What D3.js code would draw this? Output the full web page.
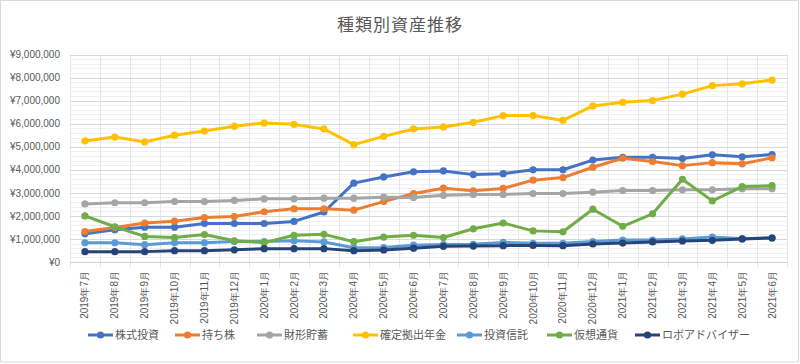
<!DOCTYPE html>
<html><head><meta charset="utf-8">
<script src="https://cdn.jsdelivr.net/npm/d3@7"></script>
<style>
html,body{margin:0;padding:0;background:#fff;}
svg{display:block;font-family:"Noto Sans CJK JP","Noto Sans",sans-serif;}
</style></head>
<body>
<svg id="chart" width="800" height="364"></svg>
<script>
const title = "種類別資産推移";
const months = ["2019年7月","2019年8月","2019年9月","2019年10月","2019年11月","2019年12月",
  "2020年1月","2020年2月","2020年3月","2020年4月","2020年5月","2020年6月","2020年7月","2020年8月",
  "2020年9月","2020年10月","2020年11月","2020年12月","2021年1月","2021年2月","2021年3月",
  "2021年4月","2021年5月","2021年6月"];
const seriesNames = ["株式投資","持ち株","財形貯蓄","確定拠出年金","投資信託","仮想通貨","ロボアドバイザー"];
const seriesColors = ["#4472C4","#ED7D31","#A5A5A5","#FFC000","#5B9BD5","#70AD47","#264478"];
const kabu    = [1220000,1400000,1510000,1510000,1670000,1670000,1670000,1760000,2170000,3420000,3690000,3910000,3950000,3790000,3830000,4000000,4000000,4420000,4540000,4540000,4490000,4650000,4560000,4660000];
const mochi   = [1320000,1500000,1690000,1770000,1930000,1970000,2180000,2310000,2310000,2250000,2620000,2970000,3200000,3090000,3190000,3550000,3660000,4110000,4500000,4360000,4180000,4310000,4260000,4520000];
const zaikei  = [2520000,2570000,2570000,2620000,2620000,2670000,2740000,2740000,2770000,2770000,2810000,2800000,2890000,2930000,2930000,2970000,2970000,3030000,3100000,3100000,3130000,3130000,3180000,3180000];
const kakutei = [5250000,5420000,5210000,5500000,5680000,5890000,6030000,5970000,5770000,5090000,5450000,5770000,5860000,6060000,6350000,6350000,6140000,6770000,6930000,7000000,7280000,7650000,7730000,7890000];
const toushin = [830000,830000,750000,830000,830000,890000,890000,920000,870000,620000,630000,730000,760000,770000,850000,810000,810000,890000,950000,950000,1000000,1080000,1010000,1050000];
const kasou   = [2000000,1530000,1110000,1060000,1190000,920000,840000,1160000,1200000,880000,1080000,1160000,1060000,1440000,1690000,1350000,1310000,2290000,1550000,2090000,3590000,2650000,3270000,3310000];
const robo    = [450000,450000,450000,490000,490000,530000,580000,580000,580000,490000,520000,600000,680000,690000,710000,720000,710000,780000,820000,870000,910000,940000,1000000,1040000];
const yTicks = [0,1000000,2000000,3000000,4000000,5000000,6000000,7000000,8000000,9000000];
const seriesValues = [kabu,mochi,zaikei,kakutei,toushin,kasou,robo];

const svg = d3.select("#chart");
const pLeft = 70, pRight = 787, pTop = 54.5, pBottom = 262;

// border
svg.append("rect").attr("x",0.5).attr("y",0.5).attr("width",798).attr("height",361.5)
  .attr("fill","#fff").attr("stroke","#d9d9d9");

const x = d3.scaleBand().domain(months).range([pLeft,pRight]).padding(0);
const y = d3.scaleLinear().domain([0,9000000]).range([pBottom,pTop]);

// minor gridlines
const minor = d3.range(0,9000001,200000).filter(v=>v%1000000!==0);
svg.append("g").selectAll("line").data(minor).join("line")
  .attr("x1",pLeft).attr("x2",pRight).attr("y1",d=>Math.round(y(d))+0.5).attr("y2",d=>Math.round(y(d))+0.5)
  .attr("stroke","#f0f0f0").attr("stroke-width",1);
// vertical gridlines
const vb = months.map(m=>x(m)).concat([pRight]);
svg.append("g").selectAll("line").data(vb).join("line")
  .attr("x1",d=>Math.round(d)+0.5).attr("x2",d=>Math.round(d)+0.5).attr("y1",pTop).attr("y2",pBottom+6)
  .attr("stroke","#e6e6e6").attr("stroke-width",1);
// major gridlines
svg.append("g").selectAll("line").data(yTicks.slice(1)).join("line")
  .attr("x1",pLeft).attr("x2",pRight).attr("y1",d=>Math.round(y(d))+0.5).attr("y2",d=>Math.round(y(d))+0.5)
  .attr("stroke","#d9d9d9").attr("stroke-width",1);
// x axis line
svg.append("line").attr("x1",pLeft).attr("x2",pRight).attr("y1",Math.round(pBottom)+0.5).attr("y2",Math.round(pBottom)+0.5)
  .attr("stroke","#d0d0d0");

// y axis labels
const yAxis = d3.axisLeft(y).tickValues(yTicks).tickSize(0).tickPadding(0)
  .tickFormat(d=>"¥"+d3.format(",")(d));
const yg = svg.append("g").attr("transform",`translate(${pLeft-10},0)`).call(yAxis);
yg.select(".domain").remove();
yg.selectAll("text").attr("fill","#595959").style("font-size","10px");

// x axis labels
const xAxis = d3.axisBottom(x).tickSize(0).tickPadding(0);
const xg = svg.append("g").attr("transform",`translate(0,${pBottom})`).call(xAxis);
xg.select(".domain").remove();
xg.selectAll("text").attr("fill","#595959").style("font-size","10px")
  .attr("text-anchor","end").attr("dy","0.35em")
  .attr("transform","translate(0,9) rotate(-90)").attr("x",0).attr("y",0);

// lines
const line = d3.line().x((d,i)=>x(months[i])+x.bandwidth()/2).y(d=>y(d));
seriesValues.forEach((vals,si)=>{
  const g = svg.append("g");
  g.append("path").datum(vals).attr("d",line).attr("fill","none")
    .attr("stroke",seriesColors[si]).attr("stroke-width",3).attr("stroke-linejoin","round").attr("stroke-linecap","round");
  g.selectAll("circle").data(vals).join("circle")
    .attr("cx",(d,i)=>x(months[i])+x.bandwidth()/2).attr("cy",d=>y(d)).attr("r",3.6)
    .attr("fill",seriesColors[si]);
});

// title
svg.append("text").attr("x",400).attr("y",31).attr("text-anchor","middle")
  .attr("fill","#595959").style("font-size","17px").style("letter-spacing","1px").text(title);

// legend
const legX = [88,175,257,353,457,547,635];
const lg = svg.append("g").attr("transform","translate(0,335)");
seriesNames.forEach((n,i)=>{
  const gx = legX[i];
  lg.append("line").attr("x1",gx).attr("x2",gx+25).attr("y1",0).attr("y2",0)
    .attr("stroke",seriesColors[i]).attr("stroke-width",3);
  lg.append("circle").attr("cx",gx+12.5).attr("cy",0).attr("r",3.6).attr("fill",seriesColors[i]);
  lg.append("text").attr("x",gx+27).attr("y",0).attr("dy","0.36em").attr("fill","#595959")
    .style("font-size","11px").text(n);
});
</script>
</body></html>
